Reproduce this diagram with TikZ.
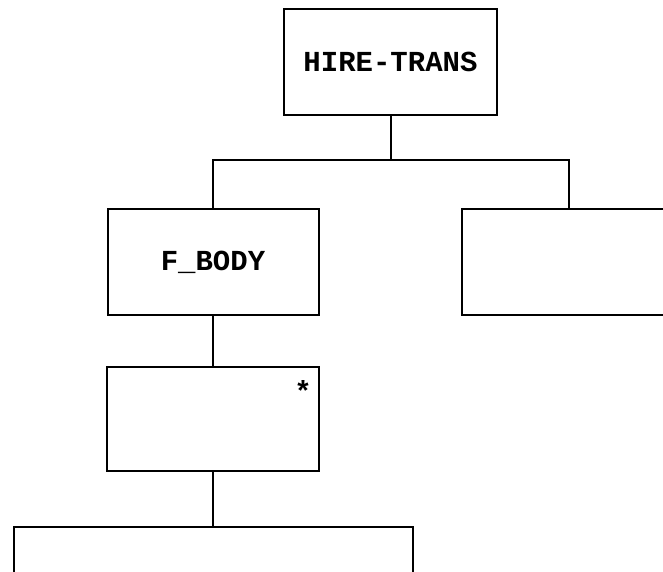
\documentclass[tikz,border=0pt]{standalone}
\usepackage{fontspec}
\setmonofont{Liberation Mono}
\begin{document}
\begin{tikzpicture}[x=1pt,y=-1pt,
  box/.style={draw=black,line width=2pt,fill=white,inner sep=0pt,
    font=\ttfamily\bfseries\fontsize{29}{32}\selectfont},
  link/.style={draw=black,line width=2pt}]
\useasboundingbox (0,0) rectangle (663,572);
\clip (0,0) rectangle (663,572);
\node[box,minimum width=213,minimum height=106] (ht) at (390.5,62) {HIRE-TRANS};
\node[box,minimum width=211,minimum height=106] (fb) at (213,262) {F\_BODY};
\node[box,minimum width=213,minimum height=106] (rb) at (568.5,262) {};
\node[box,minimum width=212,minimum height=104] (sb) at (213,419) {};
\node[box,minimum width=399,minimum height=106] (bb) at (213,580) {};
\node[font=\ttfamily\bfseries\fontsize{29}{32}\selectfont,inner sep=0pt] (star) at (303,391) {*};
\draw[link] (ht.south) -- ++(0,44) coordinate (bus) -| (fb.north);
\draw[link] (bus) -| (rb.north);
\draw[link] (fb.south) -- (sb.north);
\draw[link] (sb.south) -- (bb.north);
\end{tikzpicture}
\end{document}
